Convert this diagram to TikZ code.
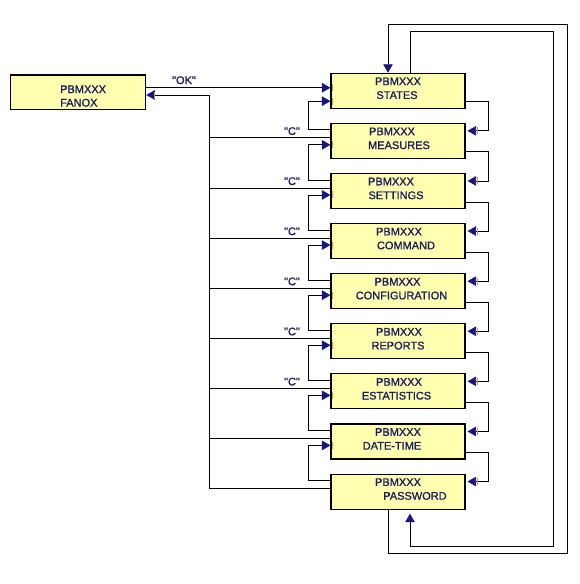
\documentclass[tikz,border=0pt]{standalone}
\usepackage{fontspec}
\setmainfont{Liberation Sans}
\newfontfamily\boxfont[FakeBold=1.2]{Liberation Sans}
\usetikzlibrary{arrows.meta}
\definecolor{boxfill}{RGB}{255,255,176}
\definecolor{navy}{RGB}{28,28,96}
\definecolor{arrblue}{RGB}{22,22,130}
\definecolor{tickor}{RGB}{235,140,60}
\begin{document}
\begin{tikzpicture}[x=1pt,y=-1pt,
  box/.style={draw=black, line width=1.1pt, fill=boxfill, minimum width=134pt, minimum height=35pt, inner sep=0pt},
  txt/.style={text=navy, font=\boxfont\fontsize{11}{13}\selectfont, inner sep=0pt, anchor=base},
  wire/.style={draw=black, line width=0.8pt},
  arr/.style={wire, -{Triangle[length=8.5pt,width=9.5pt,color=arrblue,fill=arrblue]}},
  tickmark/.style={draw=tickor, line width=0.6pt}]
\useasboundingbox (0,0) rectangle (579,584);

% boxes
\node[box, minimum width=135pt, minimum height=34.3pt] (fanox) at (78.2,92.15) {};
\foreach \k in {0,...,8}
  \node[box] (s\k) at (398,{73.3+50.1*\k+17.5}) {};

% texts
\node[txt, anchor=base west] (fa) at (60,93) {PBMXXX};
\node[txt, anchor=base west] (fb) at (60,106.5) {FANOX};
\foreach \k/\ca/\lb/\cb in {0/398/STATES/397, 1/392/MEASURES/399, 2/391/SETTINGS/396,
   3/399/COMMAND/406, 4/397.5/CONFIGURATION/401.5, 5/399/REPORTS/398,
   6/399/ESTATISTICS/396.5, 7/398/DATE-TIME/392, 8/398/PASSWORD/415}{
  \node[txt] (a\k) at (\ca,{73.3+50.1*\k+11.8}) {PBMXXX};
  \node[txt] (b\k) at (\cb,{73.3+50.1*\k+25.6}) {\lb};
}

% port coordinates
\foreach \k in {0,...,8}{
  \coordinate (lu\k) at ([yshift=-7pt]s\k.north west);
  \coordinate (lc\k) at ([yshift=-15pt]s\k.north west);
  \coordinate (ld\k) at ([yshift=-22pt]s\k.north west);
  \coordinate (ru\k) at ([yshift=-8pt]s\k.north east);
  \coordinate (rd\k) at ([yshift=-29pt]s\k.north east);
}
\coordinate (ld0) at ([yshift=-28.4pt]s0.north west);

% OK
\draw[arr] (fanox.east |- lc0) -- (lc0);
\node[txt] (ok) at (184,84) {"OK"};

% C trunk
\coordinate (tr) at (209,95);
\coordinate (fin) at (fanox.east |- tr);
\draw[arr] (lc8) -| (tr) -- (fin);
\foreach \k in {1,...,7}
  \draw[wire] (lc\k) -- (lc\k -| tr);
\foreach \k in {1,...,6}
  \node[txt] (c\k) at (292,{73.3+50.1*\k+11.5}) {"C"};

% left (up) loops
\foreach \k [evaluate=\k as \j using int(\k-1)] in {1,...,8}
  \draw[arr] (lu\k) -- ++(-22,0) |- (ld\j);

% right (down) loops
\foreach \k [evaluate=\k as \j using int(\k+1)] in {0,...,7}
  \draw[arr, shorten >=2pt] (rd\k) -- ++(23.3,0) |- (ru\j);

% wrap-around loops
\coordinate (p1) at (553,31);
\coordinate (p2) at (553,546);
\draw[arr, shorten >=4pt] ([xshift=12pt]s0.north) |- (p1) -- (p2) -| ([xshift=12pt]s8.south);
\coordinate (q1) at (567,553);
\coordinate (q2) at (567,24);
\draw[arr] ([xshift=-10pt]s8.south) |- (q1) -- (q2) -| ([xshift=-10pt]s0.north);

% port ticks
\foreach \k in {0,...,7}
  \draw[tickmark] ([xshift=1.6pt]ld\k) ++(0,-3.5) -- ++(0,7);
\draw[tickmark] ([xshift=1.6pt]lc0) ++(0,-3.5) -- ++(0,7);
\foreach \k in {1,...,8}
  \draw[tickmark] ([xshift=11.5pt]ru\k) ++(0,-3.5) -- ++(0,7);
\draw[tickmark] ([xshift=8.5pt]fin) ++(0,-3.5) -- ++(0,7);
\end{tikzpicture}
\end{document}
